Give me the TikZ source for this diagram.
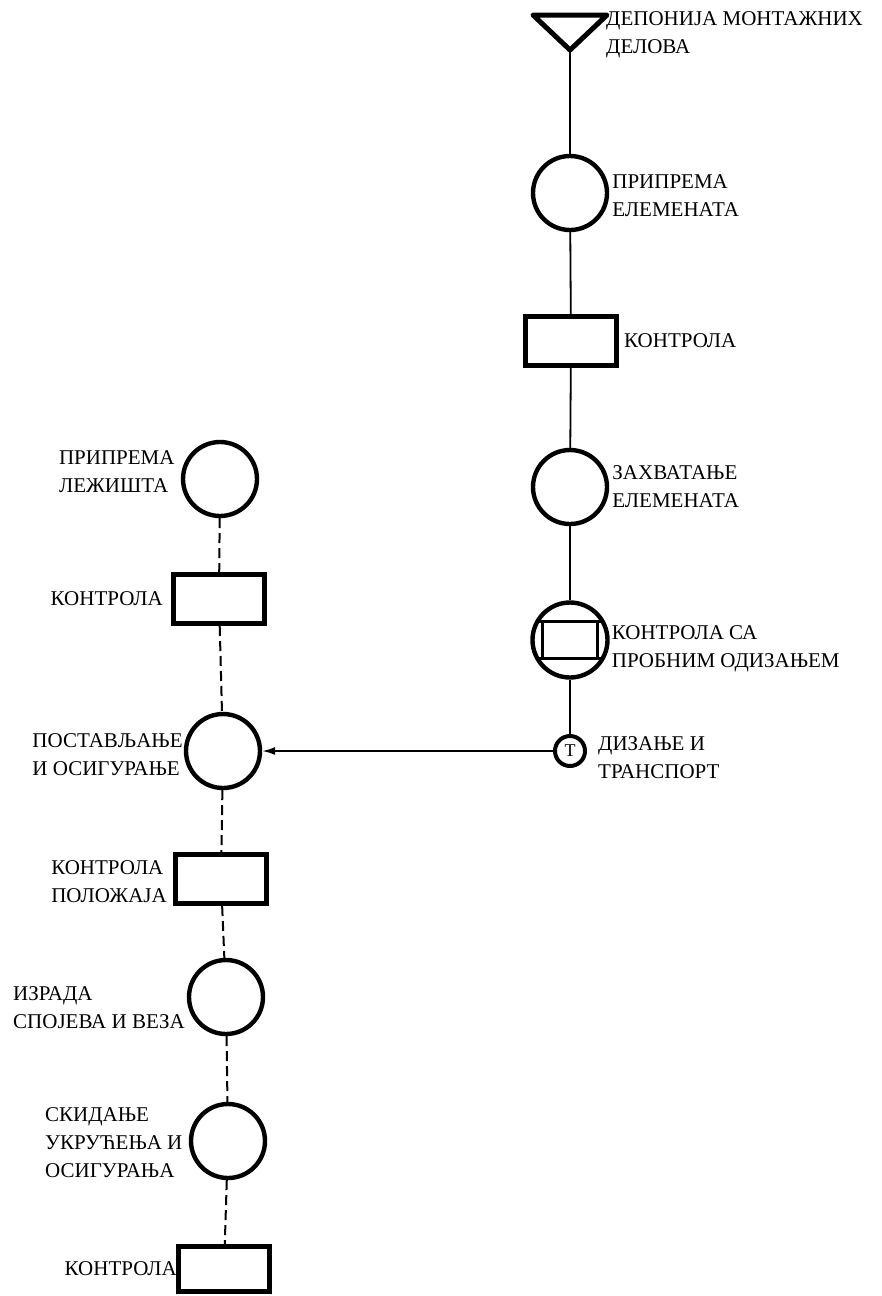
\documentclass[tikz,border=0pt]{standalone}
\usepackage{fontspec}
\setmainfont{Liberation Serif}
\usetikzlibrary{positioning,arrows.meta}

\begin{document}
\begin{tikzpicture}[x=1pt,y=-1pt,
    font=\fontsize{21}{28}\selectfont,
    oper/.style={circle, draw, line width=4.4pt, minimum size=74pt, inner sep=0pt},
    kontr/.style={rectangle, draw, line width=5pt, minimum width=91pt,
                  minimum height=49pt, inner sep=0pt},
    lbl/.style={align=left, inner sep=1pt},
    tok/.style={line width=1.8pt},
    crt/.style={line width=2pt, dash pattern=on 10pt off 5pt}]

   \useasboundingbox (0,0) rectangle (881,1296);

   % desni niz - montazni delovi
   \coordinate (dep) at (570,50);
   \draw[line width=5pt, line join=round]
        (dep) ++(-37,-35) -- ++(74,0) -- (dep) -- cycle;
   \node[oper] (pe) at (570,193) {};
   \node[kontr] (k1) at (571,341) {};
   \node[oper] (ze) at (570,487) {};
   \node[oper, minimum size=75pt] (kp) at (570,640) {};
   \node[draw, line width=3.6pt, minimum width=55pt,
         minimum height=37pt] (kb) at (kp) {};
   \draw[line width=3pt] (kp) ++(-33,-18.5) -- ++(66,0);
   \draw[line width=3pt] (kp) ++(-33,18.5) -- ++(66,0);
   \node[circle, draw, line width=4pt, minimum size=30pt, inner sep=0pt,
         font=\fontsize{18}{18}\selectfont] (dt) at (570,751) {T};

   \node[lbl, anchor=north west] (tdep) at (605,10) {ДЕПОНИЈА МОНТАЖНИХ\\ДЕЛОВА};
   \node[lbl, right=2pt of pe, yshift=-3pt] (tpe) {ПРИПРЕМА\\ЕЛЕМЕНАТА};
   \node[lbl, right=4pt of k1] (tk1) {КОНТРОЛА};
   \node[lbl, right=2pt of ze] (tze) {ЗАХВАТАЊЕ\\ЕЛЕМЕНАТА};
   \node[lbl, right=1pt of kp, yshift=-9pt] (tkp) {КОНТРОЛА СА\\ПРОБНИМ ОДИЗАЊЕМ};
   \node[lbl, right=10pt of dt, yshift=-7pt] (tdt) {ДИЗАЊЕ И\\ТРАНСПОРТ};

   % levi niz - montaza na licu mesta
   \node[oper] (pl) at (220,479) {};
   \node[kontr] (k2) at (219,599) {};
   \node[oper] (po) at (223,751) {};
   \node[kontr] (k3) at (221,879) {};
   \node[oper] (iz) at (226,997) {};
   \node[oper] (sk) at (228,1141) {};
   \node[kontr, minimum height=45pt] (k4) at (224,1269) {};

   \node[lbl, left=5pt of pl, yshift=7pt] (tpl) {ПРИПРЕМА\\ЛЕЖИШТА};
   \node[lbl, left=7pt of k2] (tk2) {КОНТРОЛА};
   \node[lbl, left=0pt of po, yshift=-4pt] (tpo) {ПОСТАВЉАЊЕ\\И ОСИГУРАЊЕ};
   \node[lbl, left=5pt of k3, yshift=-3pt] (tk3) {КОНТРОЛА\\ПОЛОЖАЈА};
   \node[lbl, anchor=west] (tiz) at (12,1008) {ИЗРАДА\\СПОЈЕВА И ВЕЗА};
   \node[lbl, anchor=west] (tsk) at (44,1143) {СКИДАЊЕ\\УКРУЋЕЊА И\\ОСИГУРАЊА};
   \node[lbl, left=-2pt of k4] (tk4) {КОНТРОЛА};

   % veze
   \draw[tok] (dep) -- (pe);
   \draw[tok] (pe) -- (k1);
   \draw[tok] (k1) -- (ze);
   \draw[tok] (ze) -- (kp);
   \draw[tok] (kp) -- (dt);
   \draw[crt] (pl) -- (k2);
   \draw[crt] (k2) -- (po);
   \draw[crt] (po) -- (k3);
   \draw[crt] (k3) -- (iz);
   \draw[crt] (iz) -- (sk);
   \draw[crt] (sk) -- (k4);
   \draw[tok, -{Latex[length=13pt,width=8pt]}] (dt) -- (po);
\end{tikzpicture}
\end{document}
